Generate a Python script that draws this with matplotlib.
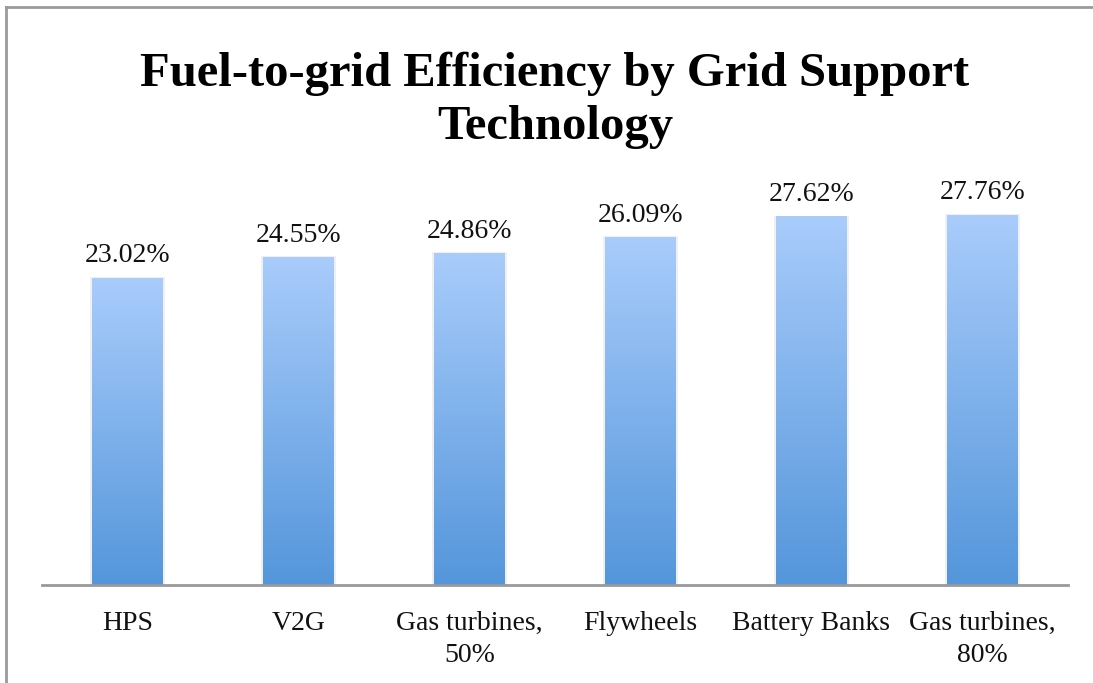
import matplotlib
matplotlib.use("Agg")
import matplotlib.pyplot as plt
import numpy as np
from matplotlib.colors import LinearSegmentedColormap
from matplotlib import font_manager

categories = ["HPS", "V2G", "Gas turbines,\n50%", "Flywheels", "Battery Banks", "Gas turbines,\n80%"]
values = [23.02, 24.55, 24.86, 26.09, 27.62, 27.76]
value_labels = ["23.02%", "24.55%", "24.86%", "26.09%", "27.62%", "27.76%"]
title_lines = ["Fuel-to-grid Efficiency by Grid Support", "Technology"]

names = {f.name for f in font_manager.fontManager.ttflist}
serif = "Liberation Serif" if "Liberation Serif" in names else "DejaVu Serif"
title_font = serif

fig = plt.figure(figsize=(10.93, 6.83), dpi=100)
# frame lines
fig.add_artist(plt.Line2D([6/1093, 6/1093], [0, 1 - 7/683], color="#9a9a9a", lw=2, transform=fig.transFigure))
fig.add_artist(plt.Line2D([6/1093, 1], [1 - 7/683, 1 - 7/683], color="#9a9a9a", lw=2, transform=fig.transFigure))

ax = fig.add_axes([42/1093, (683-585)/683, 1026/1093, 420/683])
x = np.arange(len(values))
ymax = 420 / (370/27.76)
ax.set_xlim(-0.5, len(values) - 0.5)
ax.set_ylim(0, ymax)

cmap = LinearSegmentedColormap.from_list("g", ["#5496DB", "#A9CCFB"])
grad = np.linspace(0, 1, 256).reshape(-1, 1)
width = 0.41
bars = ax.bar(x, values, width=width, color="none", edgecolor="none")
for b in bars:
    sh = plt.Rectangle((b.get_x() - 0.012, 0), b.get_width() + 0.024, b.get_height() + 0.1,
                       facecolor="#000000", alpha=0.06, edgecolor="none", zorder=1)
    ax.add_patch(sh)
    ax.imshow(grad, cmap=cmap, origin="lower", aspect="auto", interpolation="bilinear",
              extent=[b.get_x(), b.get_x() + b.get_width(), 0, b.get_height()], zorder=2)

for xi, v, lab in zip(x, values, value_labels):
    ax.annotate(lab, (xi, v), xytext=(0, 7), textcoords="offset points",
                ha="center", va="bottom", fontsize=20, family=serif, color="#111111")

ax.set_xticks(x)
ax.set_xticklabels(categories, fontsize=20, family=serif, color="#111111", linespacing=1.35)
ax.tick_params(axis="x", length=0, pad=19)
ax.set_yticks([])
for s in ["top", "right", "left"]:
    ax.spines[s].set_visible(False)
ax.spines["bottom"].set_color("#999999")
ax.spines["bottom"].set_linewidth(2)
ax.spines["bottom"].set_zorder(3)

tx = 555 / 1093
fig.text(tx, 1 - 74/683, title_lines[0], ha="center", va="center", fontsize=35,
         fontweight="bold", family=title_font, color="black")
fig.text(tx, 1 - 127/683, title_lines[1], ha="center", va="center", fontsize=35,
         fontweight="bold", family=title_font, color="black")

fig.savefig("out.png", dpi=100)
